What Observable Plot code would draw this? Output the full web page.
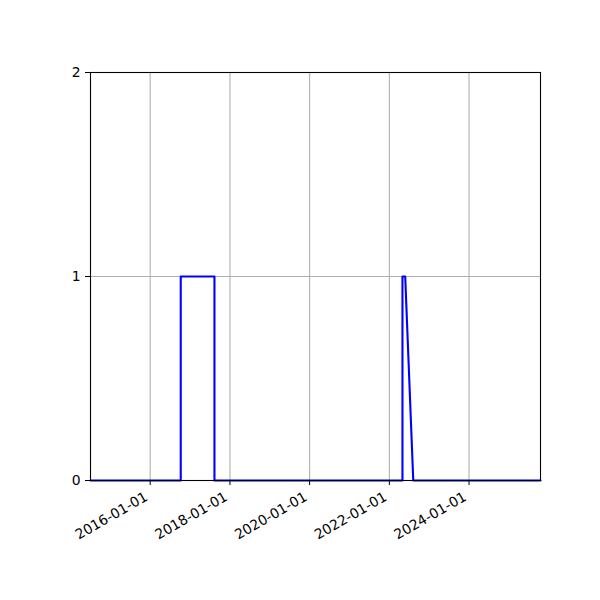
<!DOCTYPE html>
<html>
<head>
<meta charset="utf-8">
<script src="https://cdn.jsdelivr.net/npm/d3@7"></script>
<script src="https://cdn.jsdelivr.net/npm/@observablehq/plot@0.6"></script>
<style>
  body { margin: 0; background: #fff; }
  #chart { width: 600px; height: 600px; }
</style>
</head>
<body>
<div id="chart"></div>
<script>
const dates = ["2014-07-03","2016-10-07","2016-10-07","2017-08-12","2017-08-12","2022-05-01","2022-05-01","2022-05-26","2022-08-08","2025-10-17"];
const values = [0,0,1,1,0,0,1,1,0,0];
const xTicks = ["2016-01-01","2018-01-01","2020-01-01","2022-01-01","2024-01-01"];
const yTicks = [0,1,2];

const data = dates.map((d,i) => ({date: new Date(d + "T00:00:00Z"), value: values[i]}));
const xt = xTicks.map(d => new Date(d + "T00:00:00Z"));
const fmt = d3.utcFormat("%Y-%m-%d");

const chart = Plot.plot({
  width: 600,
  height: 600,
  marginLeft: 90,
  marginRight: 60,
  marginTop: 72,
  marginBottom: 120,
  style: {fontFamily: "DejaVu Sans", fontSize: "13.9px", color: "black", background: "white"},
  x: {type: "utc", domain: [data[0].date, data[data.length-1].date]},
  y: {domain: [0, 2]},
  marks: [
    Plot.gridX(xt, {stroke: "#b0b0b0", strokeOpacity: 1, strokeWidth: 1.1}),
    Plot.gridY(yTicks, {stroke: "#b0b0b0", strokeOpacity: 1, strokeWidth: 1.1}),
    Plot.line(data, {x: "date", y: "value", stroke: "blue", strokeWidth: 2.1}),
    Plot.frame({stroke: "black", strokeWidth: 1.1}),
    Plot.axisX({ticks: xt, tickSize: 5, tickFormat: () => "", label: null}),
    Plot.text(xt, {x: d => d, frameAnchor: "bottom", dy: 19, dx: -1.5, rotate: -30, textAnchor: "end", lineAnchor: "bottom", text: fmt, fontSize: 13.9, fill: "black"}),
    Plot.axisY({ticks: yTicks, tickFormat: d => String(d), tickSize: 5, tickPadding: 5, fontSize: 13.9, label: null})
  ]
});
document.getElementById("chart").appendChild(chart);
</script>
</body>
</html>
